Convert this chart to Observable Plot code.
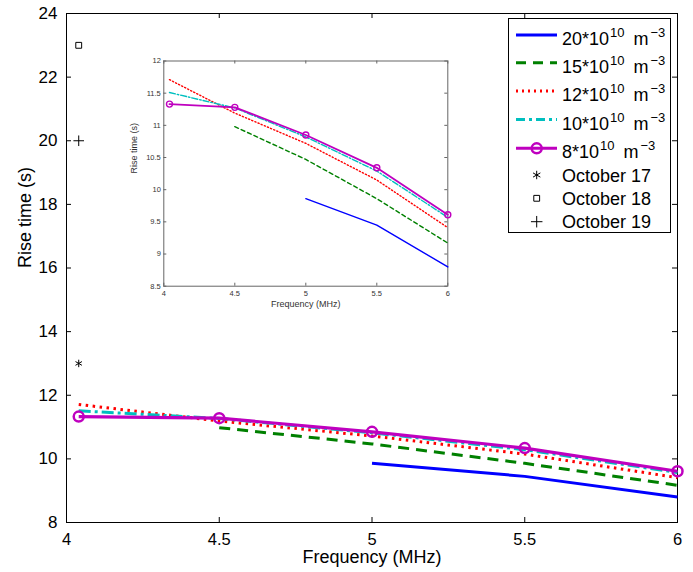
<!DOCTYPE html>
<html><head><meta charset="utf-8">
<script src="https://cdn.jsdelivr.net/npm/d3@7"></script>
<script src="https://cdn.jsdelivr.net/npm/@observablehq/plot@0.6"></script>
<style>
body{margin:0;background:#fff;}
#wrap{position:relative;width:693px;height:572px;font-family:"Liberation Sans",Arial,sans-serif;}
#wrap > svg{position:absolute;overflow:visible;}
</style></head><body><div id="wrap"></div>
<script>
// ---------------- data ----------------
const freqA = [4.04, 4.5, 5, 5.5, 6];   // 12, 10, 8 series
const freqB = [4.5, 5, 5.5, 6];         // 15 series
const freqC = [5, 5.5, 6];              // 20 series
const rise20 = [9.86, 9.45, 8.80];
const rise15 = [10.98, 10.47, 9.86, 9.17];
const rise12 = [11.71, 11.19, 10.72, 10.15, 9.41];
const rise10 = [11.51, 11.27, 10.82, 10.29, 9.57];
const rise8  = [11.33, 11.28, 10.85, 10.34, 9.61];
const densityPrefix = ["20", "15", "12", "10", "8"];
const octoberLabels = ["October 17", "October 18", "October 19"];
const octoberFreq = [4.04, 4.04, 4.04];
const octoberRise = [13, 23, 20];
const xTicks = [4, 4.5, 5, 5.5, 6];
const yTicksMain = [8, 10, 12, 14, 16, 18, 20, 22, 24];
const yTicksInset = [8.5, 9, 9.5, 10, 10.5, 11, 11.5, 12];
const xLabel = "Frequency (MHz)";
const yLabel = "Rise time (s)";

// ---------------- tables ----------------
const zip = (xs, ys) => xs.map((x, i) => ({freq: x, rise: ys[i]}));
const series = [
  {data: zip(freqC, rise20), color: "#0000ff", dash: null,        dashIn: null,          w: 3,   wIn: 1.4},
  {data: zip(freqB, rise15), color: "#008000", dash: "11,7",      dashIn: "4,3",         w: 3,   wIn: 1.4},
  {data: zip(freqA, rise12), color: "#ff0000", dash: "2.5,4.5",   dashIn: "1.2,2.2",     w: 3,   wIn: 1.4},
  {data: zip(freqA, rise10), color: "#00bfbf", dash: "12,4,3,4",  dashIn: "6,2,1.5,2",   w: 3,   wIn: 1.4},
  {data: zip(freqA, rise8),  color: "#bf00bf", dash: null,        dashIn: null,          w: 3.2, wIn: 1.8}
];
const october = octoberLabels.map((l, i) => ({label: l, freq: octoberFreq[i], rise: octoberRise[i]}));
const octSymbols = ["asterisk", "square", "plus"];

const FONT = '"Liberation Sans", Arial, sans-serif';
const wrap = document.getElementById("wrap");

// ---------------- main chart ----------------
const M = {w: 693, h: 572, l: 66, r: 16, t: 13, b: 50};
const FW = M.w - M.l - M.r, FH = M.h - M.t - M.b;
const fmt = d => String(d);

const mainMarks = [
  Plot.frame({stroke: "black", strokeWidth: 1}),
  Plot.tickX(xTicks, {x: d => d, insetTop: FH - 5, stroke: "black"}),
  Plot.tickX(xTicks, {x: d => d, insetBottom: FH - 5, stroke: "black"}),
  Plot.tickY(yTicksMain, {y: d => d, insetRight: FW - 5, stroke: "black"}),
  Plot.tickY(yTicksMain, {y: d => d, insetLeft: FW - 5, stroke: "black"}),
  Plot.axisX({ticks: xTicks, tickSize: 0, tickPadding: 11, tickFormat: fmt, fontSize: 16.5, label: null}),
  Plot.axisY({ticks: yTicksMain, tickSize: 0, tickPadding: 9, tickFormat: fmt, fontSize: 17, label: null}),
  Plot.text([xLabel], {frameAnchor: "bottom", dy: 35, text: d => d, fontSize: 18, lineAnchor: "middle"}),
  Plot.text([yLabel], {frameAnchor: "left", dx: -41, rotate: -90, text: d => d, fontSize: 18, lineAnchor: "middle"})
];
series.forEach(s => {
  mainMarks.push(Plot.line(s.data, {x: "freq", y: "rise", stroke: s.color, strokeWidth: s.w,
    strokeDasharray: s.dash || undefined, strokeLinecap: "butt"}));
});
mainMarks.push(Plot.dot(series[4].data, {x: "freq", y: "rise", r: 5, stroke: series[4].color, strokeWidth: 2.5, fill: "none"}));
october.forEach((o, i) => {
  mainMarks.push(Plot.dot([o], {x: "freq", y: "rise", symbol: () => octSymbols[i],
    r: i === 1 ? 3.3 : 3.5, stroke: "black", strokeWidth: 1, fill: "none"}));
});

const main = Plot.plot({
  width: M.w, height: M.h, marginLeft: M.l, marginRight: M.r, marginTop: M.t, marginBottom: M.b,
  x: {domain: [4, 6]}, y: {domain: [8, 24]},
  style: {fontFamily: FONT, color: "black", background: "transparent"},
  marks: mainMarks
});
main.style.left = "0px"; main.style.top = "0px";
wrap.appendChild(main);

// ---------------- inset ----------------
const I = {left: 118, top: 48, w: 340, h: 266, l: 45.3, r: 10.7, t: 12.5, b: 28.3};
const IW = I.w - I.l - I.r, IH = I.h - I.t - I.b;
const insetMarks = [
  Plot.frame({fill: "white", stroke: "#666", strokeWidth: 1}),
  Plot.tickX(xTicks, {x: d => d, insetTop: IH - 3, stroke: "#666"}),
  Plot.tickX(xTicks, {x: d => d, insetBottom: IH - 3, stroke: "#666"}),
  Plot.tickY(yTicksInset, {y: d => d, insetRight: IW - 3, stroke: "#666"}),
  Plot.tickY(yTicksInset, {y: d => d, insetLeft: IW - 3, stroke: "#666"}),
  Plot.axisX({ticks: xTicks, tickSize: 0, tickPadding: 4, tickFormat: fmt, fontSize: 7.5, label: null, fill: "#333"}),
  Plot.axisY({ticks: yTicksInset, tickSize: 0, tickPadding: 3, tickFormat: fmt, fontSize: 7.5, label: null, fill: "#333"}),
  Plot.text([xLabel], {frameAnchor: "bottom", dy: 18.3, text: d => d, fontSize: 9, fill: "#333", lineAnchor: "middle"}),
  Plot.text([yLabel], {frameAnchor: "left", dx: -30, rotate: -90, text: d => d, fontSize: 9, fill: "#333", lineAnchor: "middle"})
];
series.forEach(s => {
  insetMarks.push(Plot.line(s.data, {x: "freq", y: "rise", stroke: s.color, strokeWidth: s.wIn,
    strokeDasharray: s.dashIn || undefined}));
});
insetMarks.push(Plot.dot(series[4].data, {x: "freq", y: "rise", r: 3, stroke: series[4].color, strokeWidth: 1.4, fill: "none"}));

const inset = Plot.plot({
  width: I.w, height: I.h, marginLeft: I.l, marginRight: I.r, marginTop: I.t, marginBottom: I.b,
  x: {domain: [4, 6]}, y: {domain: [8.5, 12]},
  style: {fontFamily: FONT, color: "#333", background: "transparent"},
  marks: insetMarks
});
inset.style.left = I.left + "px"; inset.style.top = I.top + "px";
wrap.appendChild(inset);

// ---------------- legend ----------------
const L = {left: 508, top: 18, w: 163, h: 215};
const leg = d3.create("svg").attr("width", L.w).attr("height", L.h)
  .style("left", L.left + "px").style("top", L.top + "px")
  .style("font-family", FONT);
leg.append("rect").attr("x", 0.5).attr("y", 0.5).attr("width", L.w - 1).attr("height", L.h - 1)
  .attr("fill", "white").attr("stroke", "black");
const lineRows = [17, 44.7, 73, 101.5, 130.3];
const sampleDash = [null, "10,7", "2,4", "9,4,3,4", null];
series.forEach((s, i) => {
  const y = lineRows[i];
  leg.append("line").attr("x1", 8).attr("x2", 49).attr("y1", y).attr("y2", y)
    .attr("stroke", s.color).attr("stroke-width", 3).attr("stroke-dasharray", sampleDash[i]);
  if (i === 4) leg.append("circle").attr("cx", 28.7).attr("cy", y).attr("r", 5)
    .attr("fill", "none").attr("stroke", s.color).attr("stroke-width", 2.5);
  const t = leg.append("text").attr("x", 54).attr("y", y + 10).attr("font-size", 18).attr("fill", "black");
  t.append("tspan").text(densityPrefix[i] + "*10");
  t.append("tspan").attr("dx", 1).attr("dy", -8).attr("font-size", 13).text("10");
  t.append("tspan").attr("dx", 9).attr("dy", 8).text("m");
  t.append("tspan").attr("dx", 2).attr("dy", -8).attr("font-size", 13).text("\u22123");
});
const markRows = [157, 180.3, 203.7];
const symGen = [d3.symbolAsterisk, d3.symbolSquare, d3.symbolPlus];
const symSize = [50, 34, 45];
october.forEach((o, i) => {
  const y = markRows[i];
  leg.append("path").attr("transform", `translate(28.7,${y})`)
    .attr("d", d3.symbol(symGen[i], symSize[i])()).attr("fill", "none").attr("stroke", "black");
  leg.append("text").attr("x", 54).attr("y", y + 6.7).attr("font-size", 18).attr("fill", "black").text(o.label);
});
wrap.appendChild(leg.node());
</script></body></html>
